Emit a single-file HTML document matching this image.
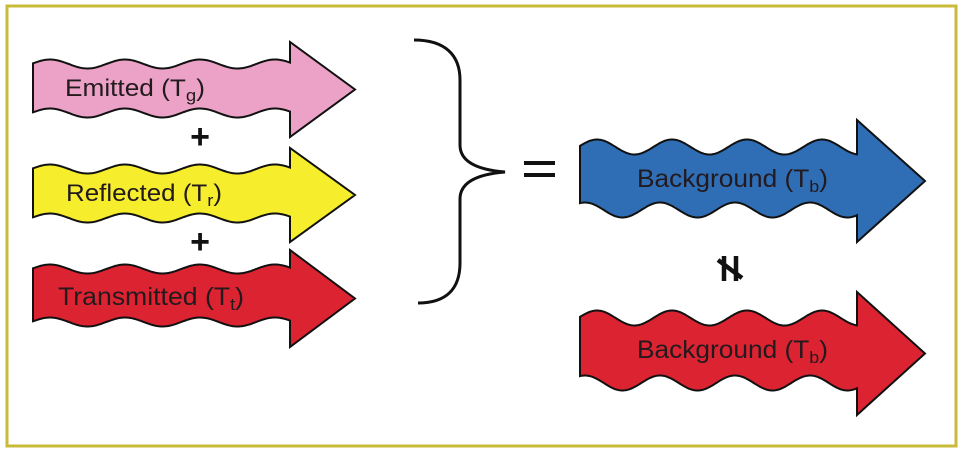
<!DOCTYPE html>
<html><head><meta charset="utf-8"><style>
html,body{margin:0;padding:0;background:#fff;}
svg{display:block;}
text{font-family:"Liberation Sans",sans-serif;fill:#231a1e;}
</style></head><body>
<svg id="s" width="962" height="452" viewBox="0 0 962 452" xmlns="http://www.w3.org/2000/svg">
<rect x="7" y="6" width="949" height="440" fill="#fff" stroke="#c8bb3a" stroke-width="3"/>
<g id="arrows"></g>
<path d="M414,40 C445,40 460,55 460,80 L460,145 C460,163 480,170 505,172 C480,174 460,181 460,199 L460,263 C460,290 445,303 418,303" fill="none" stroke="#111" stroke-width="3"/>
<rect x="524" y="161" width="31" height="4" fill="#111"/>
<rect x="524" y="173" width="31" height="4" fill="#111"/>
<text x="200" y="148" font-size="34" text-anchor="middle" font-weight="bold" style="fill:#111">+</text>
<text x="200" y="253" font-size="34" text-anchor="middle" font-weight="bold" style="fill:#111">+</text>
<g stroke="#111" stroke-width="4.5">
<line x1="724" y1="256" x2="724" y2="281"/>
<line x1="736" y1="256" x2="736" y2="281"/>
<line x1="718" y1="260" x2="742" y2="278"/>
</g>
<text x="65" y="96" font-size="24" textLength="140" lengthAdjust="spacingAndGlyphs">Emitted (T<tspan font-size="17" dy="5">g</tspan><tspan dy="-5">)</tspan></text>
<text x="66" y="201" font-size="24" textLength="156" lengthAdjust="spacingAndGlyphs">Reflected (T<tspan font-size="17" dy="5">r</tspan><tspan dy="-5">)</tspan></text>
<text x="58" y="305" font-size="25" textLength="186" lengthAdjust="spacingAndGlyphs">Transmitted (T<tspan font-size="17" dy="5">t</tspan><tspan dy="-5">)</tspan></text>
<text x="637" y="187" font-size="25" textLength="191" lengthAdjust="spacingAndGlyphs">Background (T<tspan font-size="17" dy="5">b</tspan><tspan dy="-5">)</tspan></text>
<text x="637" y="358" font-size="25" textLength="191" lengthAdjust="spacingAndGlyphs">Background (T<tspan font-size="17" dy="5">b</tspan><tspan dy="-5">)</tspan></text>
</svg>
<script>
function wave(x0,x1,yc,amp,per,ph){
  var pts=[];var n=Math.ceil((x1-x0)/1.5);
  for(var i=0;i<=n;i++){var x=x0+(x1-x0)*i/n;var y=yc-amp*Math.cos(2*Math.PI*(x-ph)/per);pts.push([x,y]);}
  return pts;
}
function arrow(o){
  var top=wave(o.x0,o.hx,o.yt,o.amp,o.per,o.ph);
  var bot=wave(o.x0,o.hx,o.yb,o.amp,o.per,o.ph+o.bs).reverse();
  var d="M"+top.map(function(p){return p[0].toFixed(1)+","+p[1].toFixed(1)}).join(" L");
  d+=" L"+o.hx+","+o.ht+" L"+o.tx+","+((o.ht+o.hb)/2)+" L"+o.hx+","+o.hb;
  d+=" L"+bot.map(function(p){return p[0].toFixed(1)+","+p[1].toFixed(1)}).join(" L")+" Z";
  var p=document.createElementNS("http://www.w3.org/2000/svg","path");
  p.setAttribute("d",d);p.setAttribute("fill",o.c);p.setAttribute("stroke","#111");p.setAttribute("stroke-width","2");
  document.getElementById("arrows").appendChild(p);
}
arrow({x0:33,hx:290,yt:64,yb:113,amp:4.5,per:75,ph:50,bs:0,ht:42,hb:137,tx:355,c:"#eba2c6"});
arrow({x0:33,hx:290,yt:169,yb:218,amp:4.5,per:75,ph:50,bs:0,ht:148,hb:242,tx:355,c:"#f6ee2c"});
arrow({x0:33,hx:290,yt:269,yb:322,amp:4.5,per:75,ph:50,bs:0,ht:250,hb:347,tx:355,c:"#dc2332"});
arrow({x0:580,hx:857,yt:147,yb:210,amp:7.5,per:75,ph:597,bs:-12,ht:120,hb:242,tx:925,c:"#2f6db5"});
arrow({x0:580,hx:857,yt:318,yb:383,amp:7.5,per:75,ph:597,bs:-12,ht:292,hb:415,tx:925,c:"#dc2332"});
</script>
</body></html>
